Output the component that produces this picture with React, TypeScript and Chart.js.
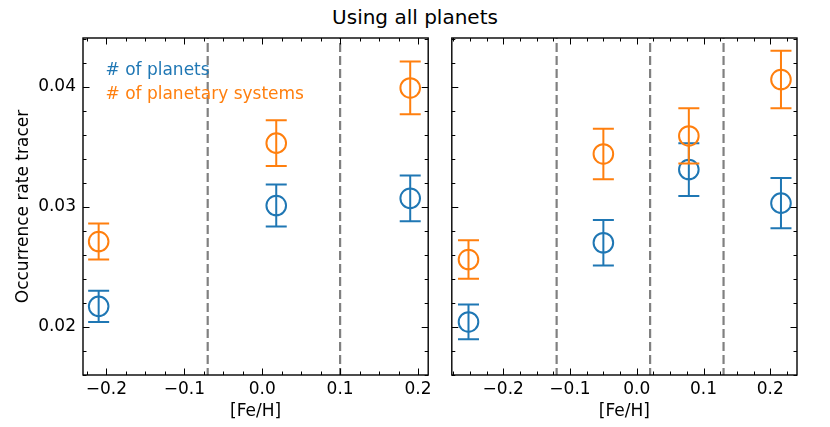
import React, { useEffect, useRef } from "react";
import { Chart, registerables } from "chart.js";
Chart.register(...registerables);

const FONT = "'DejaVu Sans', 'Liberation Sans', sans-serif";
const BLUE = "#1f77b4";
const ORANGE = "#ff7f0e";

// ---- Data ----
const panelTitle = "Using all planets";
const xAxisTitle = "[Fe/H]";
const yAxisTitle = "Occurrence rate tracer";
const seriesLabels = ["# of planets", "# of planetary systems"];

// Left panel
const leftFeH = [-0.21, 0.018, 0.19];
const leftPlanets = [0.0217, 0.0301, 0.0307];
const leftPlanetsErr = [0.0013, 0.00175, 0.0019];
const leftSystems = [0.0271, 0.0353, 0.0399];
const leftSystemsErr = [0.0015, 0.0019, 0.0022];
const leftBinEdges = [-0.07, 0.1];

// Right panel
const rightFeH = [-0.252, -0.05, 0.078, 0.216];
const rightPlanets = [0.0204, 0.027, 0.0331, 0.0303];
const rightPlanetsErr = [0.00145, 0.0019, 0.0022, 0.0021];
const rightSystems = [0.0256, 0.0344, 0.0359, 0.0406];
const rightSystemsErr = [0.0016, 0.0021, 0.0023, 0.0024];
const rightBinEdges = [-0.12, 0.02, 0.13];

// Axes
const xTickLabels = [-0.2, -0.1, 0.0, 0.1, 0.2];
const yTickLabels = [0.02, 0.03, 0.04];
const leftXRange = [-0.2301, 0.2131];
const rightXRange = [-0.277, 0.24];
const yRange = [0.01598, 0.04406];
const xMinorStep = 0.025;
const xMajorStep = 0.1;
const yMinorStep = 0.002;
const yMajorStep = 0.01;

const TICK_FONT = 17;

function fmtX(v: number) {
  const s = Math.abs(v).toFixed(1);
  return v < -1e-9 ? "\u2212" + s : s;
}

function stepValues(min: number, max: number, step: number) {
  const out: number[] = [];
  const k0 = Math.ceil(min / step - 1e-9);
  const k1 = Math.floor(max / step + 1e-9);
  for (let k = k0; k <= k1; k++) out.push(k * step);
  return out;
}

function isMultiple(v: number, step: number) {
  const r = v / step;
  return Math.abs(r - Math.round(r)) < 1e-6;
}

function makePlugin(edges: number[], showLegend: boolean) {
  return {
    id: "panelDecor",
    beforeDatasetsDraw(chart: any) {
      const { ctx, chartArea: a, scales } = chart;
      const x = scales.x;
      ctx.save();
      ctx.strokeStyle = "#808080";
      ctx.lineWidth = 2.2;
      ctx.setLineDash([9, 4]);
      ctx.lineDashOffset = -5;
      for (const v of edges) {
        const px = x.getPixelForValue(v);
        ctx.beginPath();
        ctx.moveTo(px, a.top);
        ctx.lineTo(px, a.bottom);
        ctx.stroke();
      }
      ctx.restore();
    },
    afterDatasetDraw(chart: any, args: any) {
      const { ctx, scales } = chart;
      const ds = chart.data.datasets[args.index];
      const errs: number[] = ds.errors || [];
      ctx.save();
      ctx.strokeStyle = ds.borderColor;
      ctx.lineWidth = 2;
      ctx.setLineDash([]);
      ds.data.forEach((p: any, i: number) => {
        const px = scales.x.getPixelForValue(p.x);
        const yTop = scales.y.getPixelForValue(p.y + errs[i]);
        const yBot = scales.y.getPixelForValue(p.y - errs[i]);
        ctx.beginPath();
        ctx.moveTo(px, yTop);
        ctx.lineTo(px, yBot);
        ctx.moveTo(px - 10.5, yTop);
        ctx.lineTo(px + 10.5, yTop);
        ctx.moveTo(px - 10.5, yBot);
        ctx.lineTo(px + 10.5, yBot);
        ctx.stroke();
      });
      ctx.restore();
    },
    afterDatasetsDraw(chart: any) {
      const { ctx, chartArea: a, scales } = chart;
      const x = scales.x;
      const y = scales.y;
      ctx.save();
      ctx.setLineDash([]);
      ctx.strokeStyle = "#000";
      ctx.lineWidth = 1;
      for (const v of stepValues(x.min, x.max, xMinorStep)) {
        const px = Math.round(x.getPixelForValue(v)) + 0.5;
        const L = isMultiple(v, xMajorStep) ? 6.5 : 3.5;
        ctx.beginPath();
        ctx.moveTo(px, a.bottom);
        ctx.lineTo(px, a.bottom - L);
        ctx.moveTo(px, a.top);
        ctx.lineTo(px, a.top + L);
        ctx.stroke();
      }
      for (const v of stepValues(y.min, y.max, yMinorStep)) {
        const py = Math.round(y.getPixelForValue(v)) + 0.5;
        const L = isMultiple(v, yMajorStep) ? 6.5 : 3.5;
        ctx.beginPath();
        ctx.moveTo(a.left, py);
        ctx.lineTo(a.left + L, py);
        ctx.moveTo(a.right, py);
        ctx.lineTo(a.right - L, py);
        ctx.stroke();
      }
      ctx.lineWidth = 1.4;
      ctx.strokeRect(a.left, a.top, a.right - a.left, a.bottom - a.top);
      ctx.restore();
    },
    afterDraw(chart: any) {
      if (!showLegend) return;
      const { ctx, chartArea: a } = chart;
      ctx.save();
      ctx.font = `${TICK_FONT}px ${FONT}`;
      ctx.textAlign = "left";
      ctx.textBaseline = "alphabetic";
      ctx.fillStyle = BLUE;
      ctx.fillText(seriesLabels[0], a.left + 22.5, a.top + 37);
      ctx.fillStyle = ORANGE;
      ctx.fillText(seriesLabels[1], a.left + 22.5, a.top + 61);
      ctx.restore();
    },
  };
}

function buildConfig(p: {
  feh: number[];
  planets: number[];
  planetsErr: number[];
  systems: number[];
  systemsErr: number[];
  edges: number[];
  xRange: number[];
  showY: boolean;
  padding: any;
}) {
  const tickFont = { family: FONT, size: TICK_FONT };
  return {
    type: "scatter" as const,
    data: {
      datasets: [
        {
          label: seriesLabels[1],
          data: p.feh.map((x, i) => ({ x, y: p.systems[i] })),
          errors: p.systemsErr,
          borderColor: ORANGE,
          backgroundColor: "rgba(0,0,0,0)",
          pointRadius: 9.8,
          pointHoverRadius: 9.8,
          pointBorderWidth: 2,
          showLine: false,
        },
        {
          label: seriesLabels[0],
          data: p.feh.map((x, i) => ({ x, y: p.planets[i] })),
          errors: p.planetsErr,
          borderColor: BLUE,
          backgroundColor: "rgba(0,0,0,0)",
          pointRadius: 9.8,
          pointHoverRadius: 9.8,
          pointBorderWidth: 2,
          showLine: false,
        },
      ],
    },
    options: {
      responsive: false,
      animation: false,
      devicePixelRatio: 1,
      layout: { padding: p.padding },
      plugins: {
        legend: { display: false },
        title: { display: false },
        tooltip: { enabled: false },
      },
      events: [],
      scales: {
        x: {
          type: "linear",
          min: p.xRange[0],
          max: p.xRange[1],
          grid: { display: false, drawTicks: false, tickLength: 0 },
          border: { display: false },
          afterBuildTicks: (s: any) => {
            s.ticks = xTickLabels.map((v) => ({ value: v }));
          },
          afterFit: (s: any) => {
            s.height = 52;
          },
          ticks: {
            padding: 4,
            autoSkip: false,
            maxRotation: 0,
            minRotation: 0,
            color: "#000",
            font: tickFont,
            callback: (v: any) => fmtX(Number(v)),
          },
          title: {
            display: true,
            text: xAxisTitle,
            color: "#000",
            font: tickFont,
            padding: { top: 0, bottom: 5 },
          },
        },
        y: {
          type: "linear",
          display: p.showY,
          min: yRange[0],
          max: yRange[1],
          grid: { display: false, drawTicks: false, tickLength: 0 },
          border: { display: false },
          afterBuildTicks: (s: any) => {
            s.ticks = yTickLabels.map((v) => ({ value: v }));
          },
          afterFit: (s: any) => {
            s.width = p.showY ? 83 : 0;
          },
          ticks: {
            display: p.showY,
            padding: 7,
            autoSkip: false,
            color: "#000",
            font: tickFont,
            callback: (v: any) => Number(v).toFixed(2),
          },
          title: {
            display: p.showY,
            text: yAxisTitle,
            color: "#000",
            font: tickFont,
            padding: { top: 13, bottom: 0 },
          },
        },
      },
    },
    plugins: [makePlugin(p.edges, p.showY)],
  };
}

export default function App() {
  const leftRef = useRef<HTMLCanvasElement>(null);
  const rightRef = useRef<HTMLCanvasElement>(null);

  useEffect(() => {
    const c1 = new Chart(
      leftRef.current as HTMLCanvasElement,
      buildConfig({
        feh: leftFeH,
        planets: leftPlanets,
        planetsErr: leftPlanetsErr,
        systems: leftSystems,
        systemsErr: leftSystemsErr,
        edges: leftBinEdges,
        xRange: leftXRange,
        showY: true,
        padding: { top: 38, right: 8, bottom: 0, left: 0 },
      }) as any
    );
    const c2 = new Chart(
      rightRef.current as HTMLCanvasElement,
      buildConfig({
        feh: rightFeH,
        planets: rightPlanets,
        planetsErr: rightPlanetsErr,
        systems: rightSystems,
        systemsErr: rightSystemsErr,
        edges: rightBinEdges,
        xRange: rightXRange,
        showY: false,
        padding: { top: 38, right: 33, bottom: 0, left: 8 },
      }) as any
    );
    return () => {
      c1.destroy();
      c2.destroy();
    };
  }, []);

  return (
    <div
      style={{
        position: "fixed",
        left: 0,
        top: 0,
        width: 830,
        height: 427,
        background: "#fff",
        overflow: "hidden",
      }}
    >
      <div
        style={{
          position: "absolute",
          left: 0,
          top: 7,
          width: 830,
          textAlign: "center",
          fontFamily: FONT,
          fontSize: 20,
          lineHeight: "20px",
          color: "#000",
        }}
      >
        {panelTitle}
      </div>
      <canvas
        ref={leftRef}
        width={440}
        height={427}
        style={{ position: "absolute", left: 0, top: 0, width: 440, height: 427 }}
      />
      <canvas
        ref={rightRef}
        width={390}
        height={427}
        style={{ position: "absolute", left: 440, top: 0, width: 390, height: 427 }}
      />
    </div>
  );
}
